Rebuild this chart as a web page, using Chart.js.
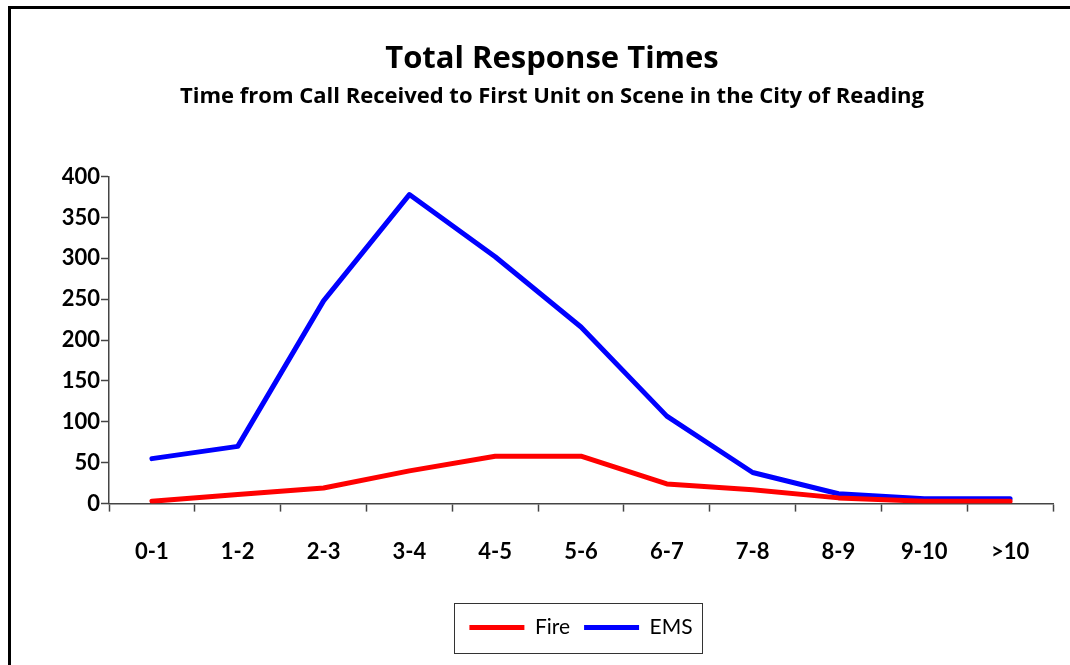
<!DOCTYPE html>
<html>
<head>
<meta charset="utf-8">
<script src="https://cdn.jsdelivr.net/npm/chart.js@4/dist/chart.umd.min.js"></script>
<style>
  html, body { margin: 0; padding: 0; background: #fff; }
  #wrap { position: relative; width: 1070px; height: 665px; }
  #frame {
    position: absolute; left: 8px; top: 6px; width: 1070px; height: 670px;
    border-left: 3px solid #000; border-top: 3px solid #000; pointer-events: none;
  }
</style>
</head>
<body>
<div id="wrap">
  <canvas id="chart" width="1070" height="665"></canvas>
  <div id="frame"></div>
</div>
<script>
const categories = ['0-1', '1-2', '2-3', '3-4', '4-5', '5-6', '6-7', '7-8', '8-9', '9-10', '>10']
const fireValues = [3, 11, 19, 40, 58, 58, 24, 17, 7, 3, 3]
const emsValues = [55, 70, 248, 378, 302, 216, 107, 38, 12, 6, 6]
const yTicks = [0, 50, 100, 150, 200, 250, 300, 350, 400]

const FONT = 'Lato, "Open Sans", sans-serif'
const TITLE_FONT = '"Open Sans", Lato, sans-serif'

// box round the legend, like the Excel one
const legendBorder = {
  id: 'legendBorder',
  afterDraw (chart) {
    const boxes = chart.legend.legendHitBoxes
    if (!boxes || !boxes.length) return
    const left = Math.min(...boxes.map((b) => b.left)) - 15
    const right = Math.max(...boxes.map((b) => b.left + b.width)) + 10
    const top = Math.min(...boxes.map((b) => b.top)) - 14
    const bottom = Math.max(...boxes.map((b) => b.top + b.height)) + 15
    const ctx = chart.ctx
    ctx.save()
    ctx.strokeStyle = '#333'
    ctx.lineWidth = 1
    ctx.strokeRect(Math.round(left) + 0.5, Math.round(top) + 0.5, Math.round(right - left), Math.round(bottom - top))
    ctx.restore()
  }
}

new Chart(document.getElementById('chart').getContext('2d'), {
  type: 'line',
  data: {
    labels: categories,
    datasets: [
      { label: 'Fire', data: fireValues, borderColor: '#ff0000', backgroundColor: '#ff0000' },
      { label: 'EMS', data: emsValues, borderColor: '#0000ff', backgroundColor: '#0000ff' }
    ]
  },
  options: {
    responsive: false,
    animation: false,
    layout: { padding: { left: 51, right: 17, top: 0, bottom: 17 } },
    elements: {
      line: { tension: 0, borderWidth: 5, borderCapStyle: 'round', borderJoinStyle: 'round' },
      point: { radius: 0 }
    },
    scales: {
      x: {
        offset: true,
        afterFit: (scale) => { scale.height += 11 },
        grid: { offset: true, drawOnChartArea: false, tickLength: 8, tickColor: '#444', tickWidth: 1.5 },
        border: { color: '#444', width: 1.5 },
        ticks: { color: '#000', padding: 27, maxRotation: 0, font: { family: FONT, size: 22, weight: 'bold' } }
      },
      y: {
        min: 0,
        max: 400,
        afterBuildTicks: (scale) => { scale.ticks = yTicks.map((v) => ({ value: v })) },
        afterFit: (scale) => { scale.width = 58 },
        grid: { drawOnChartArea: false, tickLength: 8, tickColor: '#444', tickWidth: 1.5 },
        border: { color: '#444', width: 1.5 },
        ticks: { color: '#000', padding: 1, font: { family: FONT, size: 22, weight: 'bold' } }
      }
    },
    plugins: {
      title: {
        display: true,
        text: 'Total Response Times',
        color: '#000',
        font: { family: TITLE_FONT, size: 31, weight: 'bold' },
        padding: { top: 41, bottom: 5 }
      },
      subtitle: {
        display: true,
        text: 'Time from Call Received to First Unit on Scene in the City of Reading',
        color: '#000',
        font: { family: TITLE_FONT, size: 22, weight: 'bold' },
        padding: { top: 0, bottom: 67 }
      },
      legend: {
        position: 'bottom',
        fullSize: false,
        labels: {
          color: '#000',
          boxWidth: 55,
          boxHeight: 5,
          padding: 14,
          font: { family: FONT, size: 21 },
          generateLabels: (chart) => chart.data.datasets.map((ds, i) => ({
            text: ds.label,
            fillStyle: ds.borderColor,
            strokeStyle: ds.borderColor,
            lineWidth: 0,
            datasetIndex: i
          }))
        }
      },
      tooltip: { enabled: false }
    }
  },
  plugins: [legendBorder]
})
</script>
</body>
</html>
